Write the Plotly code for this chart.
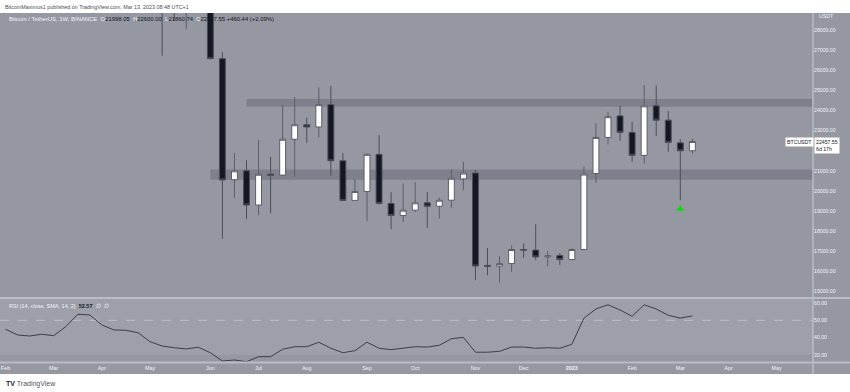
import pandas as pd
import plotly.graph_objects as go

# ---------------- data (weekly BTC/USDT, Binance) ----------------
first_week = "2022-02-07"
weeks = pd.date_range(first_week, periods=58, freq="7D")

opens = [42390, 42200, 38350, 37700, 38800, 37780, 41260, 46825, 46400, 40385,
         39420, 39450, 38470, 34060, 31305, 29430, 29450, 29865, 26575, 20560,
         21000, 19300, 20830, 20790, 22570, 23290, 23180, 24290, 21500, 19530,
         19975, 21820, 19380, 18780, 19045, 19410, 19240, 19540, 20600, 20890,
         16300, 16270, 16390, 17090, 17060, 16720, 16790, 16590, 17090, 20870,
         22660, 23730, 22910, 21770, 24230, 23520, 22390, 21998.05]
highs = [45855, 44750, 39845, 45400, 42595, 42325, 46915, 48190, 47445, 41560,
         42980, 40800, 40025, 34250, 31330, 30640, 32400, 31700, 26900, 21880,
         21530, 22530, 21700, 24270, 24670, 23640, 25150, 25210, 21880, 20580,
         21860, 22780, 19940, 20370, 20440, 19940, 19670, 21070, 21450, 21040,
         17170, 16760, 17300, 17390, 18350, 17020, 16910, 17140, 21200, 23360,
         23940, 24230, 23440, 25260, 25260, 23970, 22580, 22600.00]
lows = [41645, 39450, 34320, 37450, 37155, 37575, 40470, 45200, 42110, 39200,
        38535, 37580, 33713, 26720, 28500, 28050, 29300, 26560, 17620, 19640,
        18600, 18800, 18900, 20760, 20700, 22400, 22650, 20760, 19500, 19520,
        18500, 19330, 18100, 18460, 18960, 18160, 18630, 19160, 20040, 15560,
        15810, 15450, 15980, 16690, 16560, 16260, 16330, 16560, 17080, 20400,
        22310, 22490, 21450, 21370, 22730, 21950, 19540, 21860.74]
closes = [42200, 38350, 37700, 38800, 37780, 41260, 46825, 46400, 40385, 39420,
          39450, 38470, 34060, 31305, 29430, 29450, 29865, 26575, 20550, 21000,
          19300, 20830, 20780, 22570, 23290, 23180, 24290, 21500, 19530, 19975,
          21820, 19380, 18780, 19045, 19410, 19240, 19540, 20630, 20890, 16270,
          16260, 16390, 17090, 17060, 16720, 16770, 16590, 17090, 20840, 22660,
          23690, 22910, 21770, 24230, 23520, 22410, 21998.05, 22457.55]
rsi = [44.8, 41.5, 40.9, 41.9, 41.1, 46.3, 53.5, 53.1, 47.3, 44.4,
       44.2, 42.8, 37.6, 35.1, 34.1, 33.4, 34.4, 31.2, 26.4, 27.0,
       26.0, 28.9, 28.9, 33.2, 34.7, 34.7, 37.3, 33.8, 31.2, 32.4,
       37.3, 33.8, 33.0, 33.8, 34.7, 34.5, 35.5, 39.3, 40.1, 31.5,
       31.5, 32.0, 34.5, 34.5, 33.8, 34.1, 33.8, 36.1, 51.2, 56.6,
       59.0, 56.0, 52.3, 59.0, 56.6, 52.9, 51.3, 52.57]

# horizontal zones: (start week, low, high)
zone_starts = ["2022-06-27", "2022-06-06"]
zone_lows = [24190, 20560]
zone_highs = [24570, 21070]

# signal arrow
arrow_dates = ["2023-03-06"]
arrow_prices = [19100]

# axis ticks
month_ticks = ["2022-02-07", "2022-03-07", "2022-04-04", "2022-05-02", "2022-06-06",
               "2022-07-04", "2022-08-01", "2022-09-05", "2022-10-03", "2022-11-07",
               "2022-12-05", "2023-01-02", "2023-02-06", "2023-03-06", "2023-04-03",
               "2023-05-01"]
month_labels = ["Feb", "Mar", "Apr", "May", "Jun", "Jul", "Aug", "Sep", "Oct", "Nov",
                "Dec", "<b>2023</b>", "Feb", "Mar", "Apr", "May"]
price_ticks = [15000, 16000, 17000, 18000, 19000, 20000, 21000, 23000, 24000,
               25000, 26000, 27000, 28000]
rsi_ticks = [30, 40, 50, 60]

# ---------------- layout helpers ----------------
W, H = 850, 392
def fx(p):
    return p / W
def fy(p):
    return 1 - p / H

BG = "#9598a1"
TXT = "#f0f3fa"
DARK = "#131722"
FONT = "Liberation Sans"

px_per_week = 12.05
first_center = 5.5
plot_right = 813
t0 = pd.Timestamp(first_week)
x_start = t0 - pd.Timedelta(days=7 * first_center / px_per_week)
x_end = t0 + pd.Timedelta(days=7 * (plot_right - first_center) / px_per_week)

def price_at(ypx):
    return 28000 - (ypx - 30) / 0.02012
main_top, main_bot = 13, 297
rsi_top, rsi_bot = 299, 362
def rsi_at(ypx):
    return 50 - (ypx - 320.3) / 1.725

fig = go.Figure()

fig.add_trace(go.Candlestick(
    x=weeks, open=opens, high=highs, low=lows, close=closes,
    increasing=dict(fillcolor="#ffffff", line=dict(color="#5a5e69", width=1)),
    decreasing=dict(fillcolor=DARK, line=dict(color="#4a4e59", width=1)),
    whiskerwidth=0, xaxis="x", yaxis="y", showlegend=False, hoverinfo="skip"))

fig.add_trace(go.Scatter(
    x=pd.to_datetime(arrow_dates), y=arrow_prices, mode="markers",
    marker=dict(symbol="triangle-up", size=7, color="#00dd00"),
    xaxis="x", yaxis="y", showlegend=False, hoverinfo="skip"))

fig.add_trace(go.Scatter(
    x=weeks, y=rsi, mode="lines", line=dict(color="#3b3e48", width=1),
    xaxis="x2", yaxis="y2", showlegend=False, hoverinfo="skip"))

shapes = []
shapes.append(dict(type="rect", xref="paper", yref="paper", x0=0, x1=1,
                   y0=fy(0), y1=fy(main_top), fillcolor="white", line_width=0, layer="below"))
shapes.append(dict(type="rect", xref="paper", yref="paper", x0=0, x1=1,
                   y0=fy(374), y1=0, fillcolor="white", line_width=0, layer="below"))
for s, lo, hi in zip(zone_starts, zone_lows, zone_highs):
    shapes.append(dict(type="rect", xref="x", yref="y", x0=s, x1=x_end, y0=lo, y1=hi,
                       fillcolor="rgba(80,83,94,0.33)", line_width=0, layer="below"))
shapes.append(dict(type="rect", xref="x2 domain", yref="y2", x0=0, x1=1, y0=30, y1=70,
                   fillcolor="rgba(255,255,255,0.08)", line_width=0, layer="below"))
shapes.append(dict(type="line", xref="x2 domain", yref="y2", x0=0, x1=1, y0=50, y1=50,
                   line=dict(color="rgba(230,232,240,0.45)", width=1, dash="dash"), layer="below"))
SEP = "#b9bcc4"
for yy in (298, 362.5):
    shapes.append(dict(type="line", xref="paper", yref="paper", x0=0, x1=1,
                       y0=fy(yy), y1=fy(yy), line=dict(color=SEP, width=2), layer="above"))
shapes.append(dict(type="line", xref="paper", yref="paper", x0=fx(plot_right), x1=fx(plot_right),
                   y0=fy(main_top), y1=fy(374), line=dict(color=SEP, width=1.5), layer="above"))

def note(text, x, y, size=5.6, color=TXT, xanchor="left", **kw):
    d = dict(text=text, x=fx(x), y=fy(y), xref="paper", yref="paper",
             xanchor=xanchor, yanchor="middle", showarrow=False,
             font=dict(size=size, color=color, family=FONT))
    d.update(kw)
    return d

ann = []
ann.append(note("BitcoinMaximus1 published on TradingView.com, Mar 13, 2023 08:48 UTC+1",
                3, 6.5, size=5.4, color="#4a4d57"))
info = ("Bitcoin / TetherUS, 1W, BINANCE&nbsp;&nbsp;"
        f"O<span style=\"color:{DARK}\">21998.05</span>&nbsp;&nbsp;"
        f"H<span style=\"color:{DARK}\">22600.00</span>&nbsp;&nbsp;"
        f"L<span style=\"color:{DARK}\">21860.74</span>&nbsp;&nbsp;"
        f"C<span style=\"color:{DARK}\">22457.55</span>&nbsp;"
        f"<span style=\"color:{DARK}\">+460.44 (+2.09%)</span>")
ann.append(note(info, 7, 19, size=5.9))
rsi_info = (f"RSI (14, close, SMA, 14, 2)&nbsp;&nbsp;<span style=\"color:{DARK}\"><b>52.57</b></span>"
            "&nbsp;&nbsp;∅&nbsp;&nbsp;∅")
ann.append(note(rsi_info, 7, 305.7, size=5.5))
ann.append(note("USDT", 817, 15.7, size=5.2))
ann.append(note("BTCUSDT", 799, 142, size=5.2, color=DARK, xanchor="center",
                bgcolor="white", borderpad=1))
ann.append(note("22457.55<br>6d 17h", 813.5, 145.5, size=5.2, color=DARK,
                align="left", bgcolor="white", borderpad=1))
ann.append(note("<b>TV</b> <span style=\"color:#50535e\">TradingView</span>", 4, 384,
                size=7, color=DARK))

axis_common = dict(showgrid=False, zeroline=False, showline=False, ticks="")

fig.update_layout(
    width=W, height=H, margin=dict(l=0, r=0, t=0, b=0),
    paper_bgcolor=BG, plot_bgcolor=BG,
    font=dict(family=FONT, color=TXT),
    showlegend=False,
    xaxis=dict(domain=[0, fx(plot_right)], type="date", range=[x_start, x_end],
               showticklabels=False, rangeslider=dict(visible=False), anchor="y", **axis_common),
    yaxis=dict(domain=[fy(main_bot), fy(main_top)], range=[price_at(main_bot), price_at(main_top)],
               side="right", anchor="x", tickvals=price_ticks,
               ticktext=[f"{v:.2f}" for v in price_ticks],
               tickfont=dict(size=5.2, color=TXT, family=FONT), **axis_common),
    xaxis2=dict(domain=[0, fx(plot_right)], type="date", matches="x", anchor="y2",
                tickvals=pd.to_datetime(month_ticks), ticktext=month_labels,
                ticklabelstandoff=2,
                tickfont=dict(size=5.4, color=TXT, family=FONT), **axis_common),
    yaxis2=dict(domain=[fy(rsi_bot), fy(rsi_top)], range=[rsi_at(rsi_bot), rsi_at(rsi_top)],
                side="right", anchor="x2", tickvals=rsi_ticks,
                ticktext=[f"{v:.2f}" for v in rsi_ticks],
                tickfont=dict(size=5.2, color=TXT, family=FONT), **axis_common),
    shapes=shapes, annotations=ann,
)

fig.write_html("out.html", config={"displayModeBar": False},
               post_script="document.body.style.margin='0px';")
